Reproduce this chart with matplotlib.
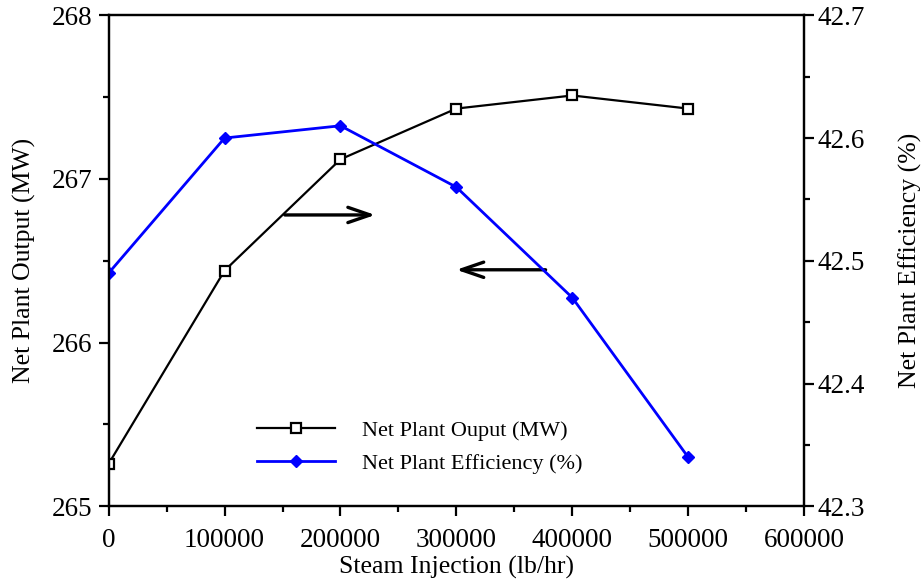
import matplotlib
matplotlib.use("Agg")
import matplotlib.pyplot as plt
from matplotlib.ticker import MultipleLocator

steam = [0, 100000, 200000, 300000, 400000, 500000]
output_mw = [265.26, 266.44, 267.12, 267.43, 267.51, 267.43]
efficiency = [42.49, 42.60, 42.61, 42.56, 42.47, 42.34]

plt.rcParams['font.family'] = ['Liberation Serif', 'DejaVu Serif']

fig = plt.figure(figsize=(9.21, 5.88), dpi=100)
ax = fig.add_axes([0.118, 0.139, 0.755, 0.835])
ax2 = ax.twinx()

l1, = ax.plot(steam, output_mw, color='black', lw=1.6, marker='s', ms=7,
              mfc='white', mec='black', mew=1.6, label='Net Plant Ouput (MW)')
l2, = ax2.plot(steam, efficiency, color='#0000ff', lw=2.0, marker='D', ms=6,
               mfc='#0000ff', mec='#0000ff', label='Net Plant Efficiency (%)')

ax.set_xlim(0, 600000)
ax.set_ylim(265, 268)
ax2.set_ylim(42.3, 42.7)
ax.xaxis.set_major_locator(MultipleLocator(100000))
ax.xaxis.set_minor_locator(MultipleLocator(50000))
ax.yaxis.set_major_locator(MultipleLocator(1))
ax.yaxis.set_minor_locator(MultipleLocator(0.5))
ax2.yaxis.set_major_locator(MultipleLocator(0.1))
ax2.yaxis.set_minor_locator(MultipleLocator(0.05))
ax2.yaxis.set_major_formatter(matplotlib.ticker.FormatStrFormatter('%.1f'))

for a in (ax, ax2):
    for s in a.spines.values():
        s.set_linewidth(1.6)
    a.tick_params(which='major', direction='out', length=7, width=1.6, labelsize=19.5)
    a.tick_params(which='minor', direction='out', length=4, width=1.6)
ax.tick_params(axis='x', pad=9)
ax.tick_params(axis='y', pad=5)
ax2.tick_params(axis='y', pad=3)

ax.set_xlabel('Steam Injection (lb/hr)', fontsize=18.5, labelpad=2)
ax.set_ylabel('Net Plant Output (MW)', fontsize=18.5, labelpad=11)
ax2.set_ylabel('Net Plant Efficiency (%)', fontsize=18.5, labelpad=24)

arrow_style = '->,head_length=1.6,head_width=0.55'
ax.annotate('', xy=(230000, 266.78), xytext=(152000, 266.78),
            arrowprops=dict(arrowstyle=arrow_style, lw=2.4, color='black',
                            shrinkA=0, shrinkB=0))
ax.annotate('', xy=(300000, 266.445), xytext=(377000, 266.445),
            arrowprops=dict(arrowstyle=arrow_style, lw=2.4, color='black',
                            shrinkA=0, shrinkB=0))

ax2.legend(handles=[l1, l2], loc='upper left', bbox_to_anchor=(0.214, 0.175),
           frameon=False, fontsize=16, handlelength=3.5, handletextpad=1.2,
           borderpad=0, borderaxespad=0, labelspacing=0.55)

fig.savefig('out.png', dpi=100)
